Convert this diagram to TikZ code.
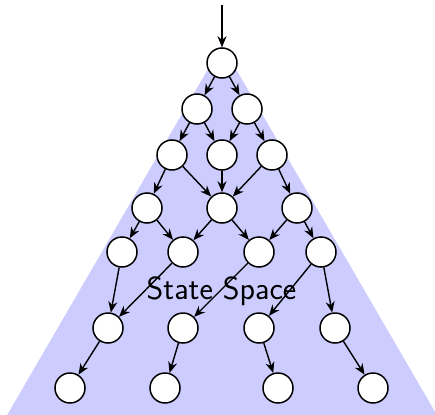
\documentclass[tikz,border=0pt]{standalone}
\usetikzlibrary{arrows.meta}
\begin{document}
\begin{tikzpicture}[x=1pt,y=-1pt,
  st/.style={circle,draw,fill=white,line width=1.5pt,minimum size=30pt,inner sep=0pt},
  ed/.style={-{Stealth[length=11pt,width=9pt,inset=3.5pt]},line width=1.4pt}]
\useasboundingbox (0,0) rectangle (435,414);
\begin{scope}
\clip (0,0) rectangle (435,414);
\fill[blue!20] (222,45) -- (-5,436) -- (449,436) -- cycle;
\end{scope}
\node[anchor=base,font=\sffamily\fontsize{32}{38}\selectfont] (lab) at (221.5,299) {State Space};
\node[st] (n0) at (222,63) {};
\node[st] (a1) at (197,109) {};
\node[st] (a2) at (247,109) {};
\node[st] (b1) at (172,155) {};
\node[st] (b2) at (222,155) {};
\node[st] (b3) at (272,155) {};
\node[st] (c1) at (147,208) {};
\node[st] (c2) at (222,208) {};
\node[st] (c3) at (297,208) {};
\node[st] (d1) at (122,252) {};
\node[st] (d2) at (183,252) {};
\node[st] (d3) at (259,252) {};
\node[st] (d4) at (321,252) {};
\node[st] (e1) at (108,328) {};
\node[st] (e2) at (183,328) {};
\node[st] (e3) at (259,328) {};
\node[st] (e4) at (335,328) {};
\node[st] (f1) at (70,388) {};
\node[st] (f2) at (165,388) {};
\node[st] (f3) at (278,388) {};
\node[st] (f4) at (373,388) {};
\coordinate (top) at (222,5);
\draw[ed] (top) -- (n0);
\draw[ed] (n0) -- (a1);
\draw[ed] (n0) -- (a2);
\draw[ed] (a1) -- (b1);
\draw[ed] (a1) -- (b2);
\draw[ed] (a2) -- (b2);
\draw[ed] (a2) -- (b3);
\draw[ed] (b1) -- (c1);
\draw[ed] (b1) -- (c2);
\draw[ed] (b2) -- (c2);
\draw[ed] (b3) -- (c2);
\draw[ed] (b3) -- (c3);
\draw[ed] (c1) -- (d1);
\draw[ed] (c1) -- (d2);
\draw[ed] (c2) -- (d2);
\draw[ed] (c2) -- (d3);
\draw[ed] (c3) -- (d3);
\draw[ed] (c3) -- (d4);
\draw[ed] (d1) -- (e1);
\draw[ed] (d2) -- (e1);
\draw[ed] (d3) -- (e2);
\draw[ed] (d4) -- (e3);
\draw[ed] (d4) -- (e4);
\draw[ed] (e1) -- (f1);
\draw[ed] (e2) -- (f2);
\draw[ed] (e3) -- (f3);
\draw[ed] (e4) -- (f4);
\end{tikzpicture}
\end{document}
